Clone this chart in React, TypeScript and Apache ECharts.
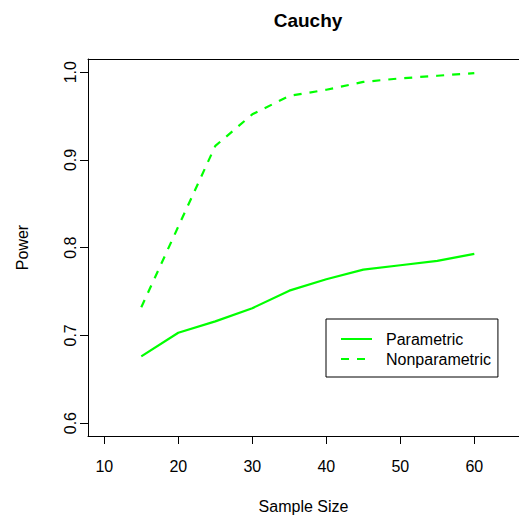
import React, { useEffect, useRef } from "react";
import * as echarts from "echarts";

const sampleSizes = [15, 20, 25, 30, 35, 40, 45, 50, 55, 60];
const parametric = [0.676, 0.703, 0.716, 0.731, 0.751, 0.764, 0.775, 0.780, 0.785, 0.793];
const nonparametric = [0.732, 0.824, 0.916, 0.952, 0.973, 0.980, 0.989, 0.993, 0.996, 0.999];
const xTicks = [10, 20, 30, 40, 50, 60];
const yTicks = [0.6, 0.7, 0.8, 0.9, 1.0];

const FONT = "'Liberation Sans', Arial, Helvetica, sans-serif";

export default function App() {
  const ref = useRef<HTMLDivElement>(null);
  useEffect(() => {
    if (!ref.current) return;
    const chart = echarts.init(ref.current, undefined, { renderer: "svg" });
    chart.setOption({
      animation: false,
      backgroundColor: "#ffffff",
      textStyle: { fontFamily: FONT },
      title: {
        text: "Cauchy",
        left: 303,
        top: 6,
        textAlign: "center",
        textStyle: { fontFamily: FONT, fontSize: 19, fontWeight: "bold", color: "#000" },
      },
      grid: {
        left: 88,
        top: 59,
        width: 431,
        height: 379,
        show: false,
      },
      legend: {
        left: 326,
        top: 319,
        orient: "vertical",
        padding: [10, 7, 8, 14],
        itemGap: 0,
        itemWidth: 31,
        itemHeight: 20,
        borderColor: "#000",
        borderWidth: 1,
        borderRadius: 0,
        itemStyle: { opacity: 0 },
        textStyle: {
          fontFamily: FONT,
          fontSize: 16,
          color: "#000",
          lineHeight: 20,
          padding: [0, 0, 0, 9],
        },
        data: ["Parametric", "Nonparametric"],
      },
      xAxis: [
        {
          type: "value",
          min: 7.8,
          max: 66.04,
          name: "Sample Size",
          nameLocation: "middle",
          nameGap: 62,
          nameTextStyle: { fontFamily: FONT, fontSize: 16, color: "#000" },
          axisLine: { show: true, onZero: false, lineStyle: { color: "#000", width: 1 } },
          splitLine: { show: false },
          axisTick: {
            show: true,
            length: 8,
            customValues: xTicks,
            lineStyle: { color: "#000", width: 1 },
          },
          axisLabel: {
            customValues: xTicks,
            margin: 22,
            fontFamily: FONT,
            fontSize: 16,
            color: "#000",
          },
        },
        {
          type: "value",
          position: "top",
          min: 7.8,
          max: 66.04,
          axisLine: { show: true, onZero: false, lineStyle: { color: "#000", width: 1 } },
          axisTick: { show: false },
          axisLabel: { show: false },
          splitLine: { show: false },
        },
      ],
      yAxis: {
        type: "value",
        min: 0.5853,
        max: 1.0151,
        name: "Power",
        nameLocation: "middle",
        nameGap: 58,
        nameRotate: 90,
        nameTextStyle: { fontFamily: FONT, fontSize: 16, color: "#000" },
        axisLine: { show: true, onZero: false, lineStyle: { color: "#000", width: 1 } },
        splitLine: { show: false },
        axisTick: {
          show: true,
          length: 8,
          customValues: yTicks,
          lineStyle: { color: "#000", width: 1 },
        },
        axisLabel: {
          customValues: yTicks,
          rotate: 90,
          margin: 10,
          fontFamily: FONT,
          fontSize: 16,
          color: "#000",
          formatter: (v: number) => v.toFixed(1),
        },
      },
      series: [
        {
          name: "Parametric",
          type: "line",
          xAxisIndex: 0,
          data: sampleSizes.map((x, i) => [x, parametric[i]]),
          symbol: "none",
          lineStyle: { color: "#00ff00", width: 2.2, type: "solid" },
          itemStyle: { color: "#00ff00" },
        },
        {
          name: "Nonparametric",
          type: "line",
          xAxisIndex: 0,
          data: sampleSizes.map((x, i) => [x, nonparametric[i]]),
          symbol: "none",
          lineStyle: { color: "#00ff00", width: 2.2, type: [8, 8] },
          itemStyle: { color: "#00ff00" },
        },
      ],
    });
    return () => chart.dispose();
  }, []);
  return <div ref={ref} style={{ width: 519, height: 519, position: "absolute", left: 0, top: 0 }} />;
}
